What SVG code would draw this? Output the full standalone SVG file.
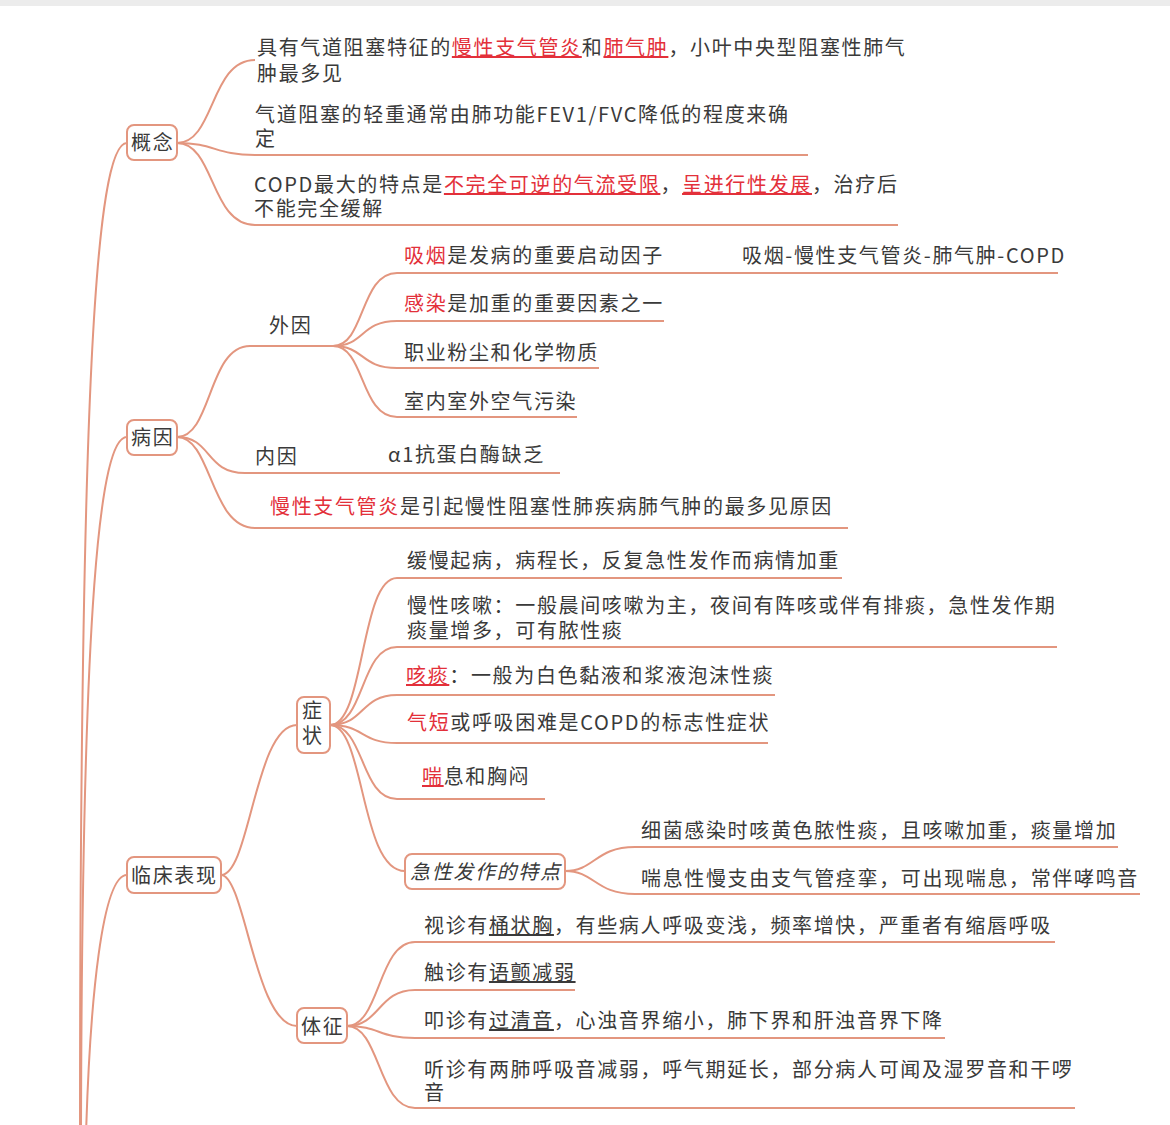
<svg xmlns="http://www.w3.org/2000/svg" width="1170" height="1125" viewBox="0 0 1170 1125">
<style>
.t{font-family:"Noto Sans CJK SC","Noto Sans",sans-serif;font-size:20px;letter-spacing:1.65px;fill:#3a3a3a}
.r{fill:#e3303a}
.ru{fill:#e3303a;text-decoration:underline}
.u{text-decoration:underline}
.i{font-style:italic}
.c{fill:none;stroke:#e3967f;stroke-width:2}
.box{fill:#fff;stroke:#e3967f;stroke-width:2}
</style>
<rect x="0" y="0" width="1170" height="1125" fill="#fff"/>
<rect x="0" y="0" width="1170" height="6" fill="#ececec"/>
<g id="connectors">
<path class="c" d="M127,143 C95,143 80,400 80,1135"/>
<path class="c" d="M127,437 C100,437 82,600 81,1135"/>
<path class="c" d="M127,875 C102,875 90,1000 86,1135"/>
<path class="c" d="M177,143 C215,143 210,60 255,60"/>
<path class="c" d="M177,143 C215,143 215,155 255,155 H808"/>
<path class="c" d="M177,143 C215,143 210,225 255,225 H898"/>
<path class="c" d="M177,437 C212,437 208,346 250,346 H333"/>
<path class="c" d="M177,437 C212,437 205,473 245,473 H560"/>
<path class="c" d="M177,437 C212,437 210,528 255,528 H848"/>
<path class="c" d="M333,346 C365,346 360,273 397,273 H1058"/>
<path class="c" d="M333,346 C365,346 360,321 397,321 H664"/>
<path class="c" d="M333,346 C365,346 360,368 397,368 H599"/>
<path class="c" d="M333,346 C365,346 360,417 397,417 H577"/>
<path class="c" d="M221,875 C250,875 255,725 297,725"/>
<path class="c" d="M221,875 C245,875 255,1026 297,1026"/>
<path class="c" d="M330,725 C365,725 360,578 397,578 H842"/>
<path class="c" d="M330,725 C365,725 360,647 397,647 H1057"/>
<path class="c" d="M330,725 C365,725 360,695 397,695 H775"/>
<path class="c" d="M330,725 C365,725 360,743 397,743 H768"/>
<path class="c" d="M330,725 C365,725 360,799 397,799 H545"/>
<path class="c" d="M330,725 C365,725 360,871 405,871"/>
<path class="c" d="M565,871 C595,871 595,847 635,847 H1118"/>
<path class="c" d="M565,871 C595,871 595,894 635,894 H1140"/>
<path class="c" d="M347,1026 C380,1026 378,942 415,942 H1055"/>
<path class="c" d="M347,1026 C380,1026 378,990 415,990 H575"/>
<path class="c" d="M347,1026 C380,1026 378,1038 415,1038 H945"/>
<path class="c" d="M347,1026 C380,1026 378,1108 415,1108 H1075"/>
</g>
<g id="node-gainian"><rect class="box" x="127" y="125" width="50" height="35" rx="7"/><text class="t" x="131" y="150">概念</text></g>
<g id="node-gn1"><text class="t" x="257" y="55">具有气道阻塞特征的<tspan class="ru">慢性支气管炎</tspan>和<tspan class="ru">肺气肿</tspan>，小叶中央型阻塞性肺气<tspan x="257" y="81">肿最多见</tspan></text></g>
<g id="node-gn2"><text class="t" x="255" y="122">气道阻塞的轻重通常由肺功能FEV1/FVC降低的程度来确<tspan x="255" y="146">定</tspan></text></g>
<g id="node-gn3"><text class="t" x="254" y="192">COPD最大的特点是<tspan class="ru">不完全可逆的气流受限</tspan>，<tspan class="ru">呈进行性发展</tspan>，治疗后<tspan x="254" y="216">不能完全缓解</tspan></text></g>
<g id="node-bingyin"><rect class="box" x="127" y="420" width="50" height="35" rx="7"/><text class="t" x="131" y="445">病因</text></g>
<g id="node-waiyin"><text class="t" x="269" y="333">外因</text></g>
<g id="node-xiyan"><text class="t" x="404" y="263"><tspan class="r">吸烟</tspan>是发病的重要启动因子</text></g>
<g id="node-chain"><text class="t" x="742" y="263">吸烟-慢性支气管炎-肺气肿-COPD</text></g>
<g id="node-ganran"><text class="t" x="404" y="311"><tspan class="r">感染</tspan>是加重的重要因素之一</text></g>
<g id="node-zhiye"><text class="t" x="404" y="360">职业粉尘和化学物质</text></g>
<g id="node-shinei"><text class="t" x="404" y="409">室内室外空气污染</text></g>
<g id="node-neiyin"><text class="t" x="255" y="464">内因</text></g>
<g id="node-alpha"><text class="t" x="388" y="462">α1抗蛋白酶缺乏</text></g>
<g id="node-manzhi"><text class="t" x="270" y="514"><tspan class="r">慢性支气管炎</tspan>是引起慢性阻塞性肺疾病肺气肿的最多见原因</text></g>
<g id="node-linchuang"><rect class="box" x="127" y="857" width="94" height="36" rx="7"/><text class="t" x="131" y="883">临床表现</text></g>
<g id="node-zhengzhuang"><rect class="box" x="297" y="697" width="33" height="56" rx="7"/><text class="t" x="302" y="718">症<tspan x="302" y="743">状</tspan></text></g>
<g id="node-zz1"><text class="t" x="407" y="568">缓慢起病，病程长，反复急性发作而病情加重</text></g>
<g id="node-zz2"><text class="t" x="407" y="613">慢性咳嗽：一般晨间咳嗽为主，夜间有阵咳或伴有排痰，急性发作期<tspan x="407" y="638">痰量增多，可有脓性痰</tspan></text></g>
<g id="node-zz3"><text class="t" x="406" y="683"><tspan class="ru">咳痰</tspan>：一般为白色黏液和浆液泡沫性痰</text></g>
<g id="node-zz4"><text class="t" x="407" y="730"><tspan class="r">气短</tspan>或呼吸困难是COPD的标志性症状</text></g>
<g id="node-zz5"><text class="t" x="422" y="784"><tspan class="ru">喘</tspan>息和胸闷</text></g>
<g id="node-jixing"><rect class="box" x="405" y="854" width="160" height="35" rx="7"/><text class="t i" x="410" y="879">急性发作的特点</text></g>
<g id="node-jx1"><text class="t" x="641" y="838">细菌感染时咳黄色脓性痰，且咳嗽加重，痰量增加</text></g>
<g id="node-jx2"><text class="t" x="641" y="886">喘息性慢支由支气管痉挛，可出现喘息，常伴哮鸣音</text></g>
<g id="node-tizheng"><rect class="box" x="297" y="1008" width="50" height="35" rx="7"/><text class="t" x="301" y="1034">体征</text></g>
<g id="node-tz1"><text class="t" x="424" y="933">视诊有<tspan class="u">桶状胸</tspan>，有些病人呼吸变浅，频率增快，严重者有缩唇呼吸</text></g>
<g id="node-tz2"><text class="t" x="424" y="980">触诊有<tspan class="u">语颤减弱</tspan></text></g>
<g id="node-tz3"><text class="t" x="424" y="1028">叩诊有<tspan class="u">过清音</tspan>，心浊音界缩小，肺下界和肝浊音界下降</text></g>
<g id="node-tz4"><text class="t" x="424" y="1077">听诊有两肺呼吸音减弱，呼气期延长，部分病人可闻及湿罗音和干啰<tspan x="424" y="1100">音</tspan></text></g>
</svg>
